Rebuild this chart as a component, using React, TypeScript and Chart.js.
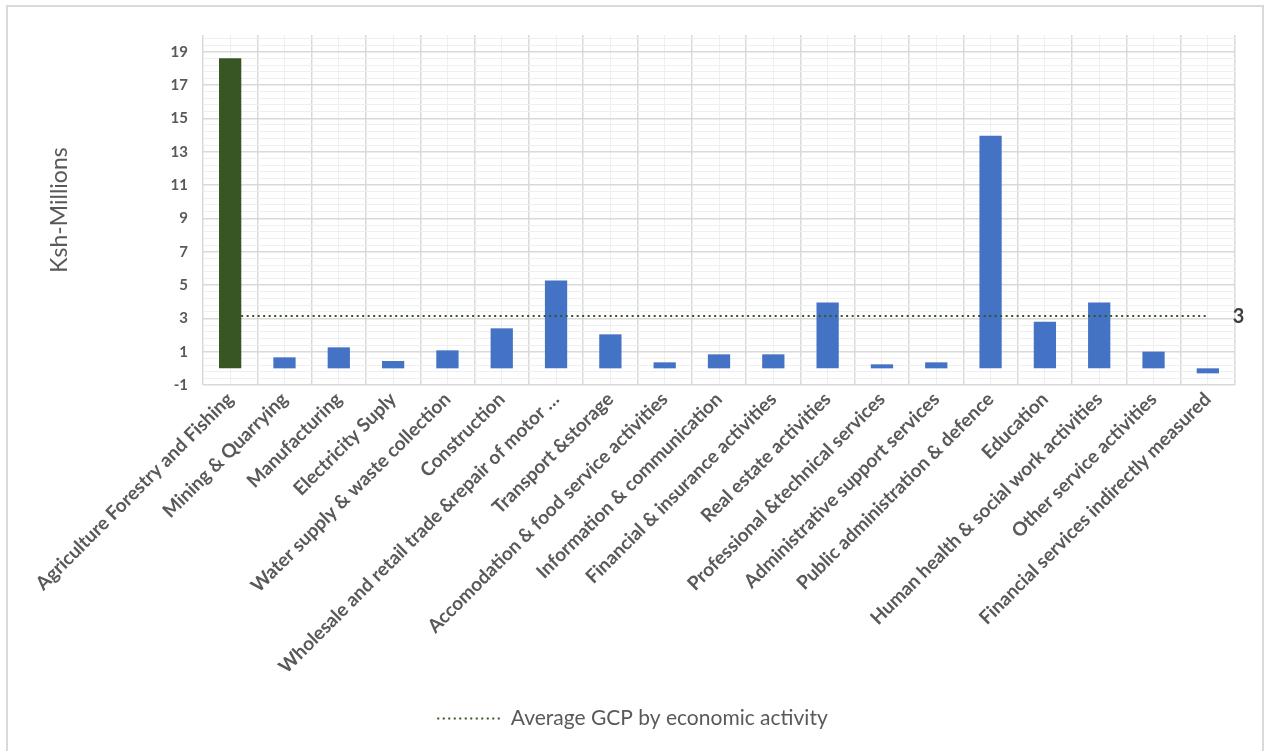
import React, { useEffect, useRef } from "react";
import { Chart, registerables } from "chart.js";

Chart.register(...registerables);

const categories = [
  "Agriculture Forestry and Fishing",
  "Mining & Quarrying",
  "Manufacturing",
  "Electricity Suply",
  "Water supply & waste collection",
  "Construction",
  "Wholesale and retail trade &repair of motor …",
  "Transport &storage",
  "Accomodation & food service activities",
  "Information & communication",
  "Financial & insurance activities",
  "Real estate activities",
  "Professional &technical services",
  "Administrative support services",
  "Public administration & defence",
  "Education",
  "Human health & social work activities",
  "Other service activities",
  "Financial services indirectly measured",
];

const gcpValues = [
  18.6, 0.66, 1.26, 0.44, 1.08, 2.4, 5.27, 2.04, 0.36, 0.84, 0.84, 3.95, 0.24,
  0.36, 13.95, 2.8, 3.95, 1.0, -0.3,
];

const averageValues = [
  3.14, 3.14, 3.14, 3.14, 3.14, 3.14, 3.14, 3.14, 3.14, 3.14, 3.14, 3.14, 3.14,
  3.14, 3.14, 3.14, 3.14, 3.14, 3.14,
];

const yMajorTicks = [-1, 1, 3, 5, 7, 9, 11, 13, 15, 17, 19];
const yMinorStep = 0.4;
const yMin = -1;
const yMax = 20;

const averageLabel = "Average GCP by economic activity";
const yTitle = "Ksh-Millions";

const FONT = "Lato, 'Open Sans', sans-serif";
const TEXT = "#595959";
const MAJOR = "#d9d9d9";
const MINOR = "#efefef";
const GREEN = "#375623";
const BLUE = "#4472C4";

const isMajor = (v: number) =>
  Math.abs(v) < 1e-6 || yMajorTicks.some((t) => Math.abs(t - v) < 1e-6);

const endLabelPlugin = {
  id: "endLabel",
  afterDatasetsDraw(chart: any) {
    const meta = chart.getDatasetMeta(1);
    if (!meta || !meta.data.length) return;
    const pt = meta.data[meta.data.length - 1];
    const ds = chart.data.datasets[1].data as number[];
    const v = ds[ds.length - 1];
    const ctx = chart.ctx;
    ctx.save();
    ctx.font = `bold 20px ${FONT}`;
    ctx.fillStyle = "#404040";
    ctx.textAlign = "left";
    ctx.textBaseline = "middle";
    ctx.fillText(v.toFixed(0), pt.x + 25, pt.y + 1);
    ctx.restore();
  },
};

export default function App() {
  const ref = useRef<HTMLCanvasElement>(null);

  useEffect(() => {
    document.body.style.margin = "0";
    document.body.style.overflow = "hidden";
    let chart: Chart | null = null;
    let cancelled = false;
    const build = () => {
      if (cancelled || !ref.current) return;
      chart = new Chart(ref.current, {
        type: "bar",
        data: {
          labels: categories,
          datasets: [
            {
              type: "bar",
              label: "GCP",
              data: gcpValues,
              backgroundColor: (c: any) => (c.dataIndex === 0 ? GREEN : BLUE),
              barPercentage: 0.41,
              categoryPercentage: 1,
              order: 1,
              xAxisID: "x",
            },
            {
              type: "line",
              label: averageLabel,
              data: averageValues,
              borderColor: GREEN,
              borderWidth: 2,
              borderDash: [2, 3.5],
              pointRadius: 0,
              fill: false,
              order: 0,
              xAxisID: "x",
            },
          ],
        },
        options: {
          responsive: false,
          animation: false,
          layout: { padding: { left: 0, top: 35, right: 0, bottom: 12 } },
          plugins: {
            tooltip: { enabled: false },
            legend: {
              position: "bottom",
              labels: {
                font: { family: FONT, size: 21 },
                color: TEXT,
                usePointStyle: true,
                pointStyleWidth: 63,
                padding: 10,
                generateLabels: () => [
                  {
                    text: averageLabel,
                    datasetIndex: 1,
                    pointStyle: "line",
                    strokeStyle: GREEN,
                    fillStyle: GREEN,
                    lineWidth: 2,
                    lineDash: [2, 3.5],
                    hidden: false,
                    fontColor: TEXT,
                  },
                ],
              },
            },
          },
          scales: {
            x: {
              type: "category",
              position: "bottom",
              offset: true,
              grid: {
                offset: true,
                color: MAJOR,
                lineWidth: 1.5,
                drawTicks: false,
              },
              border: { display: false },
              ticks: {
                autoSkip: false,
                maxRotation: 45,
                minRotation: 45,
                padding: 3,
                color: TEXT,
                font: { family: FONT, size: 19, weight: "bold" },
              },
              afterFit: (s: any) => {
                s.height = 313;
              },
            },
            xMinor: {
              type: "category",
              position: "bottom",
              offset: true,
              z: -1,
              grid: { offset: false, color: MINOR, lineWidth: 1, drawTicks: false },
              border: { display: false },
              ticks: { display: false },
              afterFit: (s: any) => {
                s.height = 0;
              },
            },
            y: {
              type: "linear",
              min: yMin,
              max: yMax,
              afterBuildTicks: (s: any) => {
                const ticks: { value: number }[] = [];
                const n = Math.floor((yMax - yMin) / yMinorStep + 1e-6);
                for (let i = 0; i <= n; i++) {
                  ticks.push({ value: +(yMin + i * yMinorStep).toFixed(2) });
                }
                s.ticks = ticks;
              },
              grid: {
                color: (c: any) => (c.tick && isMajor(c.tick.value) ? MAJOR : MINOR),
                lineWidth: (c: any) => (c.tick && isMajor(c.tick.value) ? 1.5 : 1),
                drawTicks: false,
              },
              border: { display: false },
              ticks: {
                autoSkip: false,
                padding: 15,
                color: TEXT,
                font: { family: FONT, size: 15, weight: "bold" },
                callback: (v: any) =>
                  yMajorTicks.some((t) => Math.abs(t - Number(v)) < 1e-6) ? String(Math.round(Number(v))) : "",
              },
              title: {
                display: true,
                text: yTitle,
                color: TEXT,
                font: { family: FONT, size: 23 },
                padding: { top: 46, bottom: 0 },
              },
              afterFit: (s: any) => {
                s.width = 203;
              },
            },
            yRightSpace: {
              type: "linear",
              position: "right",
              min: yMin,
              max: yMax,
              grid: { display: false, drawOnChartArea: false },
              border: { display: false },
              ticks: { display: false },
              afterFit: (s: any) => {
                s.width = 30;
              },
            },
          },
        },
        plugins: [endLabelPlugin],
      });
    };
    const fontsReady = (document as any).fonts
      ? Promise.all([
          (document as any).fonts.load(`bold 16px Lato`),
          (document as any).fonts.load(`19px Lato`),
        ]).catch(() => null)
      : Promise.resolve(null);
    fontsReady.then(build);
    return () => {
      cancelled = true;
      if (chart) chart.destroy();
    };
  }, []);

  return (
    <div style={{ position: "relative", width: 1265, height: 751, overflow: "hidden" }}>
      <canvas ref={ref} width={1265} height={751} style={{ position: "absolute", left: 0, top: 0 }} />
      <div
        style={{
          position: "absolute",
          left: 6,
          top: 5,
          width: 1254,
          height: 760,
          border: "2px solid #d9d9d9",
          pointerEvents: "none",
        }}
      />
    </div>
  );
}
